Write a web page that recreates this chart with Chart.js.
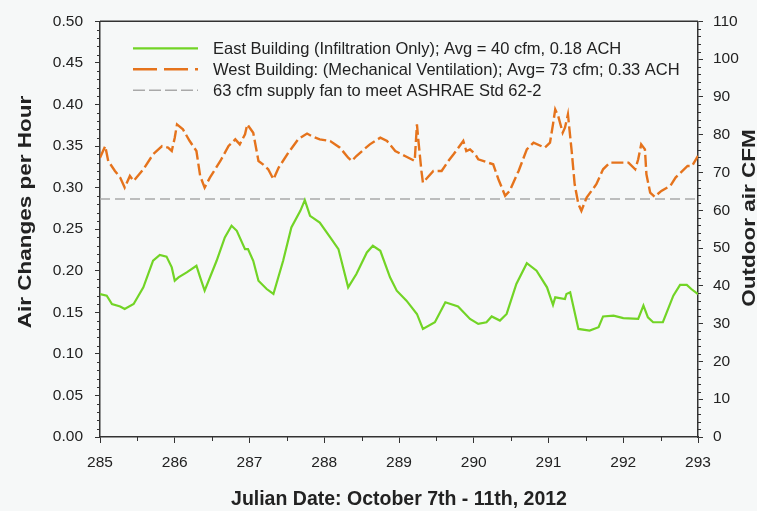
<!DOCTYPE html>
<html>
<head>
<meta charset="utf-8">
<script src="https://cdn.jsdelivr.net/npm/chart.js@4.4.1/dist/chart.umd.min.js"></script>
<style>
  html, body { margin: 0; padding: 0; background: #f6f8f8; overflow: hidden; }
  #wrap { width: 757px; height: 511px; }
</style>
</head>
<body>
<div id="wrap"><canvas id="chart"></canvas></div>
<script>
// Julian day / air changes per hour
const eastDays = [
  285.00, 285.09, 285.16, 285.27, 285.33, 285.45, 285.58, 285.71, 285.80, 285.89,
  285.96, 286.00, 286.05, 286.16, 286.29, 286.34, 286.40, 286.56, 286.67, 286.76,
  286.83, 286.94, 286.98, 287.05, 287.12, 287.23, 287.32, 287.45, 287.56, 287.68,
  287.74, 287.81, 287.94, 288.08, 288.19, 288.32, 288.43, 288.57, 288.65, 288.75,
  288.88, 288.97, 289.10, 289.24, 289.32, 289.48, 289.62, 289.79, 289.95, 290.06,
  290.17, 290.24, 290.35, 290.44, 290.57, 290.71, 290.84, 290.98, 291.06, 291.09,
  291.22, 291.24, 291.29, 291.40, 291.55, 291.67, 291.73, 291.87, 292.00, 292.20,
  292.27, 292.33, 292.40, 292.53, 292.67, 292.76, 292.85, 292.91, 293.00
];
const eastAch = [
  0.172, 0.170, 0.160, 0.157, 0.154, 0.160, 0.180, 0.212, 0.219, 0.217,
  0.204, 0.188, 0.192, 0.198, 0.206, 0.192, 0.176, 0.212, 0.240, 0.254,
  0.248, 0.226, 0.226, 0.212, 0.188, 0.178, 0.172, 0.212, 0.252, 0.272,
  0.285, 0.266, 0.258, 0.240, 0.226, 0.180, 0.196, 0.222, 0.230, 0.224,
  0.192, 0.176, 0.164, 0.148, 0.130, 0.138, 0.162, 0.157, 0.142, 0.136,
  0.138, 0.145, 0.140, 0.148, 0.184, 0.209, 0.200, 0.180, 0.159, 0.168,
  0.166, 0.172, 0.174, 0.130, 0.128, 0.132, 0.145, 0.146, 0.143, 0.142,
  0.158, 0.144, 0.138, 0.138, 0.170, 0.183, 0.183, 0.178, 0.172
];
const westDays = [
  285.00, 285.07, 285.11, 285.20, 285.27, 285.33, 285.40, 285.45, 285.58, 285.71,
  285.83, 285.91, 285.96, 286.00, 286.03, 286.11, 286.20, 286.29, 286.34, 286.40,
  286.47, 286.61, 286.72, 286.81, 286.87, 286.94, 286.97, 287.05, 287.12, 287.18,
  287.25, 287.32, 287.39, 287.52, 287.65, 287.77, 287.83, 287.94, 288.08, 288.21,
  288.32, 288.37, 288.43, 288.61, 288.75, 288.84, 288.95, 289.08, 289.21, 289.24,
  289.26, 289.30, 289.32, 289.46, 289.57, 289.66, 289.73, 289.86, 289.90, 289.95,
  290.02, 290.06, 290.19, 290.26, 290.33, 290.42, 290.48, 290.60, 290.71, 290.80,
  290.95, 291.02, 291.06, 291.09, 291.13, 291.19, 291.22, 291.26, 291.31, 291.35,
  291.40, 291.44, 291.51, 291.64, 291.73, 291.82, 291.96, 292.07, 292.16, 292.20,
  292.24, 292.29, 292.31, 292.36, 292.42, 292.51, 292.63, 292.70, 292.86, 292.92,
  293.00
];
const westAch = [
  0.336, 0.350, 0.332, 0.320, 0.312, 0.300, 0.314, 0.308, 0.322, 0.340,
  0.350, 0.348, 0.344, 0.360, 0.376, 0.370, 0.356, 0.344, 0.314, 0.300,
  0.312, 0.332, 0.350, 0.358, 0.352, 0.364, 0.376, 0.366, 0.332, 0.328,
  0.322, 0.310, 0.324, 0.342, 0.358, 0.365, 0.362, 0.358, 0.356, 0.348,
  0.336, 0.332, 0.338, 0.352, 0.360, 0.356, 0.344, 0.338, 0.332, 0.376,
  0.356, 0.320, 0.306, 0.320, 0.320, 0.332, 0.340, 0.356, 0.344, 0.346,
  0.340, 0.334, 0.330, 0.328, 0.310, 0.290, 0.296, 0.320, 0.346, 0.354,
  0.348, 0.354, 0.376, 0.394, 0.386, 0.366, 0.372, 0.388, 0.344, 0.304,
  0.280, 0.272, 0.288, 0.304, 0.322, 0.330, 0.330, 0.330, 0.322, 0.334,
  0.352, 0.346, 0.316, 0.294, 0.289, 0.296, 0.302, 0.312, 0.326, 0.326,
  0.338
];
// ASHRAE 62.2 supply fan target, in cfm (right axis)
const fanDays = [285, 293];
const fanCfm = [63, 63];

const seriesLabels = [
  'East Building (Infiltration Only); Avg = 40 cfm, 0.18 ACH',
  'West Building: (Mechanical Ventilation); Avg= 73 cfm; 0.33 ACH',
  '63 cfm supply fan to meet ASHRAE Std 62-2'
];
const axisTitles = ['Air Changes per Hour', 'Outdoor air CFM', 'Julian Date: October 7th - 11th, 2012'];

const FONT = '"Liberation Sans", Arial, Helvetica, sans-serif';
const INK = '#222';
const AXIS = '#333';

const pts = (xs, ys) => xs.map((x, i) => ({ x, y: ys[i] }));

// minor ticks, top frame line, legend and the two side titles
const extras = {
  id: 'extras',
  afterDraw(chart) {
    const { ctx, chartArea: a, scales } = chart;
    ctx.save();
    ctx.strokeStyle = AXIS;
    ctx.lineWidth = 1.5;
    ctx.beginPath();
    ctx.moveTo(a.left, a.top);
    ctx.lineTo(a.right, a.top);
    ctx.stroke();

    ctx.lineWidth = 1;
    ctx.beginPath();
    for (let i = 1; i < 16; i += 2) {
      const px = Math.round(scales.x.getPixelForValue(285 + i / 2)) + 0.5;
      ctx.moveTo(px, a.bottom);
      ctx.lineTo(px, a.bottom + 4);
    }
    for (let i = 1; i < 50; i++) {
      if (i % 5 === 0) continue;
      const py = Math.round(scales.y.getPixelForValue(i / 100)) + 0.5;
      ctx.moveTo(a.left - 3, py);
      ctx.lineTo(a.left, py);
    }
    for (let i = 1; i < 55; i++) {
      if (i % 5 === 0) continue;
      const py = Math.round(scales.y1.getPixelForValue(i * 2)) + 0.5;
      ctx.moveTo(a.right, py);
      ctx.lineTo(a.right + 3, py);
    }
    ctx.stroke();

    // legend inside the plot
    const dashes = [[], [24, 7], [12, 4]];
    chart.data.datasets.forEach((ds, i) => {
      const y = a.top + 27 + i * 21;
      ctx.strokeStyle = ds.borderColor;
      ctx.lineWidth = ds.borderWidth;
      ctx.setLineDash(dashes[i]);
      ctx.beginPath();
      ctx.moveTo(a.left + 33, y);
      ctx.lineTo(a.left + 98, y);
      ctx.stroke();
      ctx.setLineDash([]);
      ctx.fillStyle = INK;
      ctx.font = `16.5px ${FONT}`;
      ctx.textAlign = 'left';
      ctx.textBaseline = 'middle';
      ctx.fillText(ds.label, a.left + 113, y + 1);
    });

    const sideTitle = (text, x, y) => {
      ctx.save();
      ctx.translate(x, y);
      ctx.rotate(-Math.PI / 2);
      ctx.scale(1.25, 1);
      ctx.font = `bold 18px ${FONT}`;
      ctx.fillStyle = INK;
      ctx.textAlign = 'center';
      ctx.textBaseline = 'middle';
      ctx.fillText(text, 0, 0);
      ctx.restore();
    };
    sideTitle(axisTitles[0], 26, 212);
    sideTitle(axisTitles[1], 750, 218);
    ctx.restore();
  }
};

new Chart(document.getElementById('chart'), {
  type: 'line',
  data: {
    datasets: [
      {
        label: seriesLabels[0],
        data: pts(eastDays, eastAch),
        yAxisID: 'y',
        borderColor: '#72d426',
        borderWidth: 2.2,
        pointRadius: 0,
        tension: 0,
      },
      {
        label: seriesLabels[1],
        data: pts(westDays, westAch),
        yAxisID: 'y',
        borderColor: '#e5731c',
        borderWidth: 2.4,
        borderDash: [12, 4],
        pointRadius: 0,
        tension: 0,
      },
      {
        label: seriesLabels[2],
        data: pts(fanDays, fanCfm),
        yAxisID: 'y1',
        borderColor: '#a9a9a9',
        borderWidth: 1.5,
        borderDash: [10, 5],
        pointRadius: 0,
      },
    ],
  },
  options: {
    responsive: true,
    maintainAspectRatio: false,
    animation: false,
    layout: { padding: { top: 20, left: 0, right: 0, bottom: 0 } },
    plugins: { legend: { display: false }, tooltip: { enabled: false } },
    scales: {
      x: {
        type: 'linear',
        min: 285,
        max: 293,
        afterFit: (s) => { s.height = 74; },
        border: { display: true, color: AXIS, width: 1.5 },
        grid: { drawOnChartArea: false, drawTicks: true, tickLength: 6, tickColor: AXIS },
        ticks: { stepSize: 1, padding: 10, color: INK, font: { family: FONT, size: 15.5 } },
        title: {
          display: true,
          text: axisTitles[2],
          color: INK,
          padding: { top: 0, bottom: 0 },
          font: { family: FONT, size: 19.5, weight: 'bold' },
        },
      },
      y: {
        position: 'left',
        min: 0,
        max: 0.5,
        afterFit: (s) => { s.width = 100; },
        border: { display: true, color: AXIS, width: 1.5 },
        grid: { drawOnChartArea: false, drawTicks: true, tickLength: 5, tickColor: AXIS },
        ticks: {
          stepSize: 0.05,
          padding: 12,
          color: INK,
          font: { family: FONT, size: 15.5 },
          callback: (v) => Number(v).toFixed(2),
        },
      },
      y1: {
        position: 'right',
        min: 0,
        max: 110,
        afterFit: (s) => { s.width = 59; },
        border: { display: true, color: AXIS, width: 1.5 },
        grid: { drawOnChartArea: false, drawTicks: true, tickLength: 5, tickColor: AXIS },
        ticks: { stepSize: 10, padding: 10, color: INK, font: { family: FONT, size: 15.5 } },
      },
    },
  },
  plugins: [extras],
});
</script>
</body>
</html>
